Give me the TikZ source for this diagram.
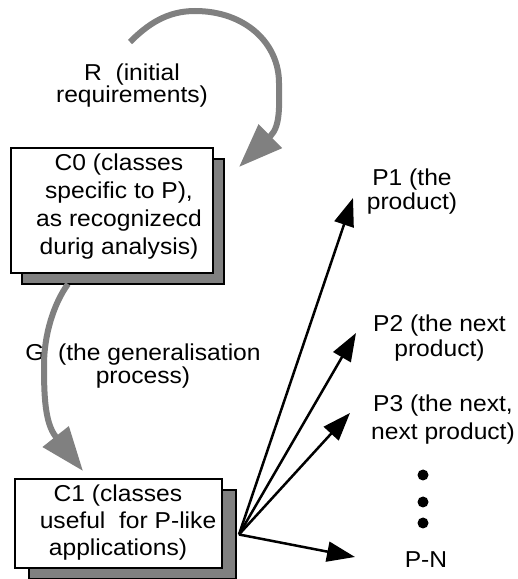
\documentclass[tikz,border=0pt]{standalone}
\usepackage{fontspec}
\setmainfont[FakeStretch=1.07]{Liberation Sans}
\usetikzlibrary{arrows.meta}
\definecolor{shadowgray}{RGB}{128,128,128}
\begin{document}
\begin{tikzpicture}[x=1pt,y=1pt,
  shadowbox/.style={draw=black, line width=1.8pt, fill=shadowgray, inner sep=0pt, outer sep=0pt},
  frontbox/.style={draw=black, line width=1.8pt, fill=white, inner sep=0pt, outer sep=0pt},
  txt/.style={font=\fontsize{23}{#1}\selectfont, align=center, inner sep=0pt, anchor=north},
  garrow/.style={draw=shadowgray, line width=6pt, -{Triangle[length=44pt,width=32pt]}},
  barrow/.style={draw=black, line width=2.5pt, -{Triangle[length=28pt,width=20pt]}},
  dot/.style={circle, fill=black, minimum size=11pt, inner sep=0pt}]
\useasboundingbox (0,0) rectangle (518,579);

% boxes
\node[shadowbox, minimum width=202pt, minimum height=125pt] (c0s) at (123,357.5) {};
\node[frontbox, minimum width=202pt, minimum height=125pt] (c0) at (112,368.5) {};
\node[txt=28] (c0t) at (119,425) {C0 (classes\\specific to P),\\as recognizecd\\durig analysis)};

\node[shadowbox, minimum width=207pt, minimum height=89pt] (c1s) at (132.5,44.5) {};
\node[frontbox, minimum width=207pt, minimum height=89pt] (c1) at (118.5,55.5) {};
\node[txt=26.7] (c1t) at (118,94) {C1 (classes\\\hspace*{20pt}useful~~for P-like\\applications)};

% labels
\node[txt=22] (rl) at (132,515.8) {R~~(initial\\requirements)};
\node[txt=23] (gl) at (143,235.8) {G~~(the generalisation\\process)};
\node[txt=24.5] (p1) at (412,410.8) {P1 (the\\product)};
\node[txt=25] (p2) at (439.5,264) {P2 (the next\\product)};
\node[txt=28] (p3) at (443,184) {P3 (the next,\\next product)};
\node[font=\fontsize{23}{23}\selectfont, inner sep=0pt, anchor=base] (pn) at (426,11) {P-N};

\node[dot] (d1) at (423,104) {};
\node[dot] (d2) at (423,77) {};
\node[dot] (d3) at (423,56) {};

% gray process arrows
\coordinate (rs) at (130,537);
\coordinate (rtop) at (195,568);
\coordinate (rright) at (279,496);
\coordinate (rend) at (270.5,443);
\coordinate (rtip) at (239,412);
\draw[garrow] (rs) .. controls (147.7,554.7) and (167,568) .. (rtop)
  .. controls (245,568) and (279,536) .. (rright)
  .. controls (279,476) and (281,453.6) .. (rend) -- (rtip);

\coordinate (gs) at ([xshift=-55pt]c0s.south);
\coordinate (gleft) at (44,214);
\coordinate (gend) at (56,142);
\coordinate (gtip) at (83,108);
\draw[garrow] (gs) .. controls (53.7,275.5) and (44,244) .. (gleft)
  .. controls (44,184) and (44.75,155.9) .. (gend) -- (gtip);

% product arrows
\coordinate (o) at ([xshift=3pt]c1s.east);
\coordinate (t1) at (353,381);
\coordinate (t2) at (356,246);
\coordinate (t3) at (350,166);
\coordinate (tn) at (355,22);
\draw[barrow] (o) -- (t1);
\draw[barrow] (o) -- (t2);
\draw[barrow] (o) -- (t3);
\draw[barrow] (o) -- (tn);
\end{tikzpicture}
\end{document}
